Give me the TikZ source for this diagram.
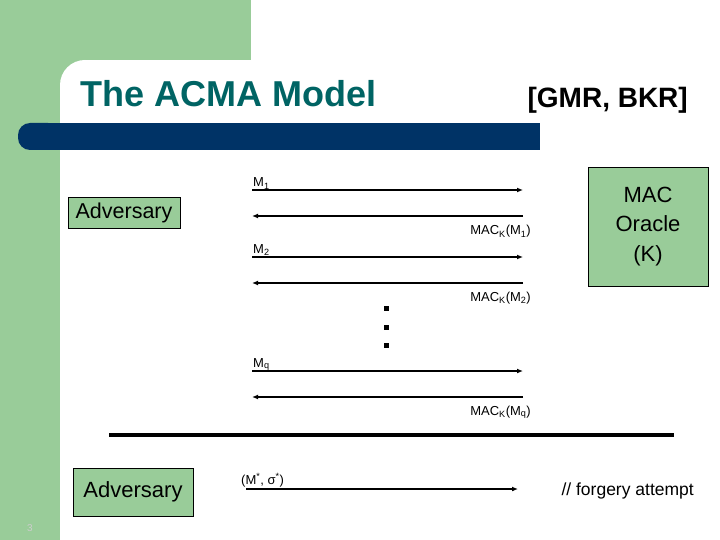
\documentclass[tikz,border=0pt]{standalone}
\usepackage{fontspec}
\setmainfont{Liberation Sans}
\usetikzlibrary{arrows.meta}
\definecolor{bggreen}{RGB}{153,204,153}
\definecolor{barblue}{RGB}{0,51,102}
\definecolor{titleteal}{RGB}{0,100,100}
\tikzset{
  box/.style={draw=black, line width=0.8pt, fill=bggreen, inner sep=0pt},
  msg/.style={line width=1.8pt, -{Latex[length=6pt,width=5pt]}},
  lbl/.style={font=\fontsize{13}{15}\selectfont, inner sep=0pt},
  dot/.style={fill=black, inner sep=0pt, minimum size=5pt, rectangle},
}
\begin{document}
\begin{tikzpicture}[x=1pt,y=-1pt]
\useasboundingbox (0,0) rectangle (720,540);
% background
\fill[white] (0,0) rectangle (720,540);
\fill[bggreen] (0,0) rectangle (251,60);
\fill[bggreen] (0,0) rectangle (60,540);
\fill[bggreen] (60,60) rectangle (85,85);
\fill[white] (85,85) circle[radius=25];
\fill[white] (85,60) rectangle (251,110);
\fill[white] (60,85) rectangle (110,123);
% dark bar
\fill[barblue, rounded corners=12pt] (18,123) rectangle (60,150);
\fill[barblue] (45,123) rectangle (540,150);
% title
\node[anchor=base west, inner sep=0pt, text=titleteal, font=\fontsize{36}{40}\selectfont\bfseries] (title) at (80,107) {The ACMA Model};
\node[anchor=base east, inner sep=0pt, font=\fontsize{28}{32}\selectfont\bfseries] (ref) at (688,108) {[GMR, BKR]};
% boxes
\node[box, minimum width=112pt, minimum height=31pt, font=\fontsize{21.5}{24}\selectfont] (adv) at (124,213) {Adversary};
\node[box, minimum width=120pt, minimum height=119pt, align=center, font=\fontsize{22}{29.5}\selectfont] (oracle) at (648,226.5) {MAC\\Oracle\\(K)};
% message coordinates
\foreach \n/\y in {a/190, b/216, c/257, d/283, e/371, f/397} {
  \coordinate (\n L) at (252,\y);
  \coordinate (\n R) at (523,\y);
}
\draw[msg] (aL) -- (aR);
\draw[msg] (bR) -- (bL);
\draw[msg] (cL) -- (cR);
\draw[msg] (dR) -- (dL);
\draw[msg] (eL) -- (eR);
\draw[msg] (fR) -- (fL);
\node[lbl, anchor=base west] (m1) at (253,187) {M\textsubscript{1}};
\node[lbl, anchor=base east] (mac1) at (531,235) {MAC\textsubscript{K}(M\textsubscript{1})};
\node[lbl, anchor=base west] (m2) at (253,253) {M\textsubscript{2}};
\node[lbl, anchor=base east] (mac2) at (531,301) {MAC\textsubscript{K}(M\textsubscript{2})};
\node[lbl, anchor=base west] (mq) at (253,367) {M\textsubscript{q}};
\node[lbl, anchor=base east] (macq) at (531,415) {MAC\textsubscript{K}(M\textsubscript{q})};
% dots
\node[dot] (d1) at (386,308) {};
\node[dot] (d2) at (386,327) {};
\node[dot] (d3) at (386,345) {};
% separator
\coordinate (sepL) at (109,435);
\coordinate (sepR) at (674,435);
\draw[line width=3.5pt] (sepL) -- (sepR);
% forgery
\node[box, minimum width=120pt, minimum height=48pt, font=\fontsize{22}{26}\selectfont] (adv2) at (133,492) {Adversary};
\coordinate (fL) at (246,489);
\coordinate (fR) at (518,489);
\draw[msg] (fL) -- (fR);
\node[lbl, anchor=base west] (ms) at (241,484) {(M\textsuperscript{*}, σ\textsuperscript{*})};
\node[anchor=base east, inner sep=0pt, font=\fontsize{17.5}{20}\selectfont] (forg) at (694,495) {// forgery attempt};
\node[anchor=base, inner sep=0pt, text=white!80!black, font=\fontsize{10}{12}\selectfont] (pg) at (30,531) {3};
\end{tikzpicture}
\end{document}
